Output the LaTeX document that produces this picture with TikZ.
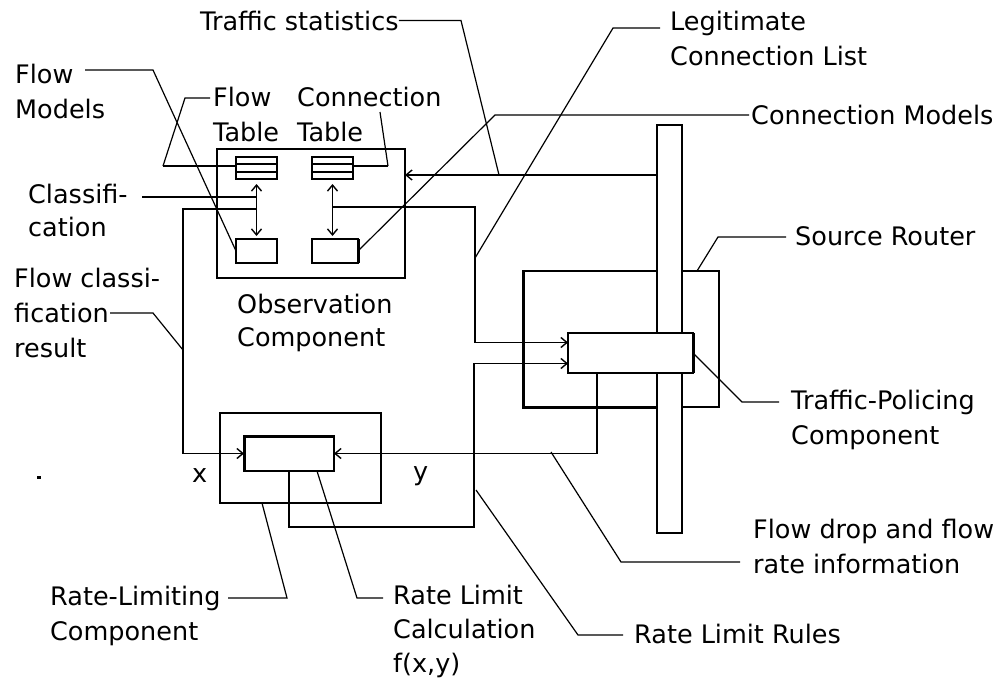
\documentclass[tikz,border=0pt]{standalone}
\usepackage{fontspec}
\setmainfont{DejaVu Sans}
\usetikzlibrary{arrows.meta}
\begin{document}
\begin{tikzpicture}[x=1pt,y=-1pt,
  box/.style={draw, line width=1.3pt, inner sep=0pt, outer sep=0pt},
  wbox/.style={box, fill=white},
  wire/.style={line width=1.3pt},
  tip/.tip={Straight Barb[length=6pt,width=10pt,line width=1.4pt]},
  arr/.style={wire, -tip},
  darr/.style={wire, tip-tip},
  lead/.style={line width=1.2pt},
  heavy/.style={line width=3pt},
  heavyb/.style={line width=2.4pt},
  lbl/.style={anchor=base west, inner sep=0pt, align=left, font=\fontsize{25.5}{35}\selectfont}
]
\useasboundingbox (0,0) rectangle (999,680);

% ---- observation component ----
\node[box, minimum width=188, minimum height=129] (obs) at (311,213.5) {};
\node[box, minimum width=41, minimum height=22] (ftab) at (256.5,168) {};
\node[box, minimum width=41, minimum height=22] (ctab) at (332.5,168) {};
\draw[wire] ([yshift=4pt]ftab.west) -- ([yshift=4pt]ftab.east);
\draw[wire] ([yshift=-4pt]ftab.west) -- ([yshift=-4pt]ftab.east);
\draw[wire] ([yshift=4pt]ctab.west) -- ([yshift=4pt]ctab.east);
\draw[wire] ([yshift=-4pt]ctab.west) -- ([yshift=-4pt]ctab.east);
\node[box, minimum width=41, minimum height=24] (fmod) at (256.5,251) {};
\node[box, minimum width=46, minimum height=24] (cmod) at (335,251) {};
\draw[heavy] (cmod.north east) -- (cmod.south east);
\draw[darr, shorten <=5pt, shorten >=3pt] (ftab.south) -- (fmod.north);
\draw[darr, shorten <=5pt, shorten >=3pt] (ctab.south) -- (ctab.south |- cmod.north);

% ---- source router, bar, traffic policing ----
\node[box, minimum width=196, minimum height=136] (rtr) at (621,339) {};
\node[wbox, minimum width=25, minimum height=408] (bar) at (669.5,329) {};
\draw[heavy] (rtr.north west) -- (rtr.south west) -- (bar.west |- rtr.south);
\node[wbox, minimum width=125, minimum height=40] (pol) at (630.5,353) {};
\draw[heavy] (pol.north east) -- (pol.south east);

% ---- rate limiting component ----
\node[box, minimum width=161, minimum height=90] (rl) at (300.5,458) {};
\node[box, minimum width=90, minimum height=35] (calc) at (289,453.5) {};
\draw[heavy] (calc.south west) -- (calc.north west) -- (calc.north east);

% ---- connectors ----
\coordinate (polout) at ([xshift=-33.5pt]pol.south);
\draw[arr] (bar.west |- 0,175) -- (obs.east |- 0,175);
\draw[arr] (ftab.south |- 0,209) -- (183,209) |- (calc.west);
\draw[arr] (ctab.south |- 0,207) -- (475,207) |- ([yshift=10.5pt]pol.west);
\draw[arr] (calc.south) |- (474,527) |- ([yshift=-10.5pt]pol.west);
\draw[arr] (polout) |- (calc.east);

% ---- table attachment lines ----
\draw[lead] (210,98) -- (185,98) -- (163,166);
\draw[heavyb] (163,166) -- (ftab.west |- 0,166);
\draw[lead] (380,112) -- (388,166);
\draw[heavyb] (388,166) -- (ctab.east |- 0,166);

% ---- labels (anchored at the baseline of their last line) ----
\node[lbl] (lTS) at (200,30) {Traffic statistics};
\node[lbl] (lFM) at (15,118) {Flow\\Models};
\node[lbl] (lFT) at (213,141) {Flow\\Table};
\node[lbl] (lCT) at (297,141) {Connection\\Table};
\node[lbl, font=\fontsize{25.5}{33}\selectfont] (lCl) at (28,236) {Classifi-\\cation};
\node[lbl] (lFC) at (14,357) {Flow classi-\\fication\\result};
\node[lbl, font=\fontsize{25.5}{33}\selectfont] (lOb) at (237,346) {Observation\\Component};
\node[lbl] (lx) at (192,482) {x};
\node[lbl] (ly) at (413,480) {y};
\node[lbl] (lRL) at (50,640) {Rate-Limiting\\Component};
\node[lbl, font=\fontsize{25.5}{34}\selectfont] (lRC) at (393,672) {Rate Limit\\Calculation\\f(x,y)};
\node[lbl] (lLC) at (670,65) {Legitimate\\Connection List};
\node[lbl] (lCM) at (751,124) {Connection Models};
\node[lbl] (lSR) at (795,245) {Source Router};
\node[lbl] (lTP) at (791,444) {Traffic-Policing\\Component};
\node[lbl] (lFD) at (753,573) {Flow drop and flow\\rate information};
\node[lbl] (lRR) at (634,643) {Rate Limit Rules};
\fill (37,476) rectangle (41,478.5);

% ---- leader lines ----
\draw[lead] (lTS.east) -- (lTS.east -| 461,0) -- (499,175);
\draw[lead] (85,70) -- (153,70) -- (fmod.west);
\draw[lead] (142,197) -- (ftab.south |- 0,197);
\draw[lead] (110,313) -- (153,313) -- (183,350);
\draw[lead] (228,598) -- (287,598) -- (262,503);
\draw[lead] (383,598) -- (357,598) -- (317,471);
\draw[lead] (660,28) -- (613,28) -- (475,258);
\draw[lead] (749,115) -- (495,115) -- (cmod.east);
\draw[lead] (786,237) -- (718,237) -- (697,271);
\draw[lead] (779,402) -- (742,402) -- (pol.east);
\draw[lead] (740,562) -- (621,562) -- (551,452);
\draw[lead] (623,635) -- (578,635) -- (476,490);
\end{tikzpicture}
\end{document}
